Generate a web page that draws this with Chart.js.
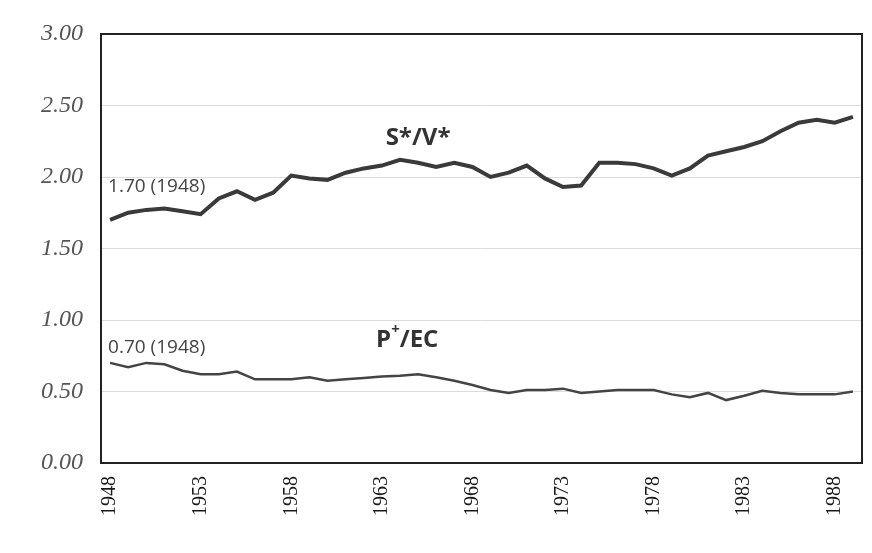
<!DOCTYPE html>
<html lang="en">
<head>
    <meta charset="UTF-8">
    <title>S*/V* and P+/EC, 1948-1989</title>
    <script src="https://cdn.jsdelivr.net/npm/chart.js"></script>
    <style>
        html, body { margin: 0; padding: 0; background: #fff; }
        #wrap { width: 872px; height: 553px; }
    </style>
</head>
<body>
    <div id="wrap"><canvas id="ratioChart"></canvas></div>

    <script>
        // values
        const years = [];
        for (let y = 1948; y <= 1989; y++) years.push(String(y));

        const svRatio = [
            1.70, 1.75, 1.77, 1.78, 1.76, 1.74, 1.85, 1.90, 1.84, 1.89,
            2.01, 1.99, 1.98, 2.03, 2.06, 2.08, 2.12, 2.10, 2.07, 2.10,
            2.07, 2.00, 2.03, 2.08, 1.99, 1.93, 1.94, 2.10, 2.10, 2.09,
            2.06, 2.01, 2.06, 2.15, 2.18, 2.21, 2.25, 2.32, 2.38, 2.40,
            2.38, 2.42
        ];

        const pecRatio = [
            0.70, 0.67, 0.70, 0.69, 0.645, 0.62, 0.62, 0.64, 0.585, 0.585,
            0.585, 0.60, 0.575, 0.585, 0.595, 0.605, 0.61, 0.62, 0.60, 0.575,
            0.545, 0.51, 0.49, 0.51, 0.51, 0.52, 0.49, 0.50, 0.51, 0.51,
            0.51, 0.48, 0.46, 0.49, 0.44, 0.47, 0.505, 0.49, 0.48, 0.48,
            0.48, 0.50
        ];

        const yTickStep = 0.5;
        const labelEvery = 5;

        // box around the plot area + the text notes on the lines
        const notesPlugin = {
            id: 'notes',
            afterDraw(chart) {
                const ctx = chart.ctx;
                const area = chart.chartArea;
                const x = chart.scales.x, y = chart.scales.y;
                ctx.save();
                ctx.strokeStyle = '#222';
                ctx.lineWidth = 2;
                ctx.strokeRect(area.left, area.top, area.right - area.left, area.bottom - area.top);

                ctx.fillStyle = '#444';
                ctx.textBaseline = 'middle';
                ctx.textAlign = 'left';
                ctx.font = '19px "Open Sans"';
                ctx.fillText(svRatio[0].toFixed(2) + ' (' + years[0] + ')', x.getPixelForValue(0) - 2, y.getPixelForValue(1.93));
                ctx.fillText(pecRatio[0].toFixed(2) + ' (' + years[0] + ')', x.getPixelForValue(0) - 2, y.getPixelForValue(0.81));

                ctx.fillStyle = '#333';
                ctx.textAlign = 'center';
                ctx.font = 'bold 24px "Open Sans"';
                ctx.fillText('S*/V*', x.getPixelForValue(17.0), y.getPixelForValue(2.27));

                // P+/EC with a raised plus
                const px = x.getPixelForValue(16.4), py = y.getPixelForValue(0.86);
                ctx.textAlign = 'left';
                const wP = ctx.measureText('P').width;
                const wRest = ctx.measureText('/EC').width;
                ctx.font = 'bold 15px "Open Sans"';
                const wPlus = ctx.measureText('+').width;
                const start = px - (wP + wPlus + wRest) / 2;
                ctx.font = 'bold 24px "Open Sans"';
                ctx.fillText('P', start, py);
                ctx.fillText('/EC', start + wP + wPlus, py);
                ctx.font = 'bold 15px "Open Sans"';
                ctx.fillText('+', start + wP, py - 10);
                ctx.restore();
            }
        };

        new Chart(document.getElementById('ratioChart'), {
            type: 'line',
            data: {
                labels: years,
                datasets: [
                    {
                        label: 'S*/V*',
                        data: svRatio,
                        borderColor: '#3a3a3a',
                        borderWidth: 4,
                        pointRadius: 0,
                        tension: 0
                    },
                    {
                        label: 'P+/EC',
                        data: pecRatio,
                        borderColor: '#444',
                        borderWidth: 2.5,
                        pointRadius: 0,
                        tension: 0
                    }
                ]
            },
            options: {
                responsive: true,
                maintainAspectRatio: false,
                animation: false,
                layout: { padding: { top: 34, right: 10, left: 0, bottom: 0 } },
                plugins: {
                    legend: { display: false },
                    tooltip: { enabled: false }
                },
                scales: {
                    x: {
                        type: 'category',
                        offset: true,
                        grid: { display: false, drawTicks: false },
                        border: { display: false },
                        afterFit(scale) {
                            scale.height = 90;
                            scale.paddingLeft = 0;
                            scale.paddingRight = 0;
                        },
                        ticks: {
                            autoSkip: false,
                            minRotation: 90,
                            maxRotation: 90,
                            padding: 13,
                            color: '#1a1a1a',
                            font: { family: '"Liberation Serif"', size: 20 },
                            callback(val, i) {
                                return i % labelEvery === 0 ? years[i] : '';
                            }
                        }
                    },
                    y: {
                        min: 0,
                        max: 3,
                        grid: { color: '#dcdcdc', lineWidth: 1, drawTicks: false },
                        border: { display: false },
                        afterFit(scale) { scale.width = 101; },
                        ticks: {
                            stepSize: yTickStep,
                            padding: 18,
                            color: '#555',
                            font: { family: '"Liberation Serif"', size: 24, style: 'italic' },
                            callback(v) { return Number(v).toFixed(2); }
                        }
                    }
                }
            },
            plugins: [notesPlugin]
        });
    </script>
</body>
</html>
